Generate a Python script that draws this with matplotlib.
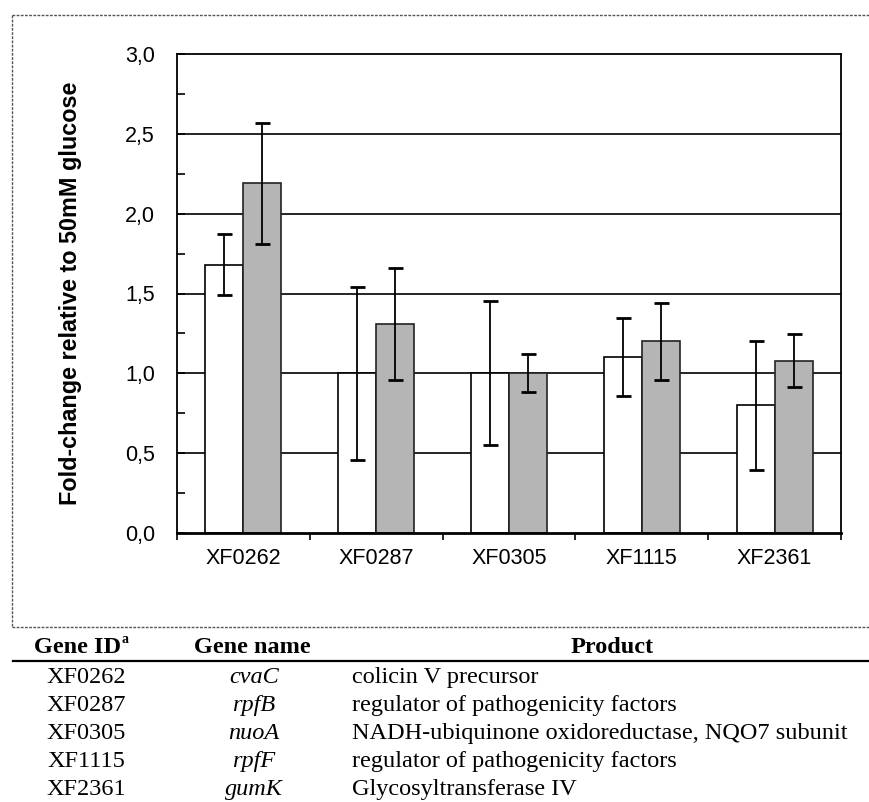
import matplotlib
matplotlib.use("Agg")
import matplotlib.pyplot as plt
from matplotlib.lines import Line2D
from matplotlib.ticker import FixedLocator
import numpy as np

# ---- data ----
genes = ["XF0262", "XF0287", "XF0305", "XF1115", "XF2361"]
white_vals = [1.68, 1.00, 1.00, 1.10, 0.80]
white_err = [0.19, 0.54, 0.45, 0.245, 0.405]
grey_vals = [2.19, 1.31, 1.00, 1.20, 1.08]
grey_err = [0.38, 0.35, 0.12, 0.24, 0.165]
y_ticks = [0.0, 0.5, 1.0, 1.5, 2.0, 2.5, 3.0]
y_tick_labels = ["0,0", "0,5", "1,0", "1,5", "2,0", "2,5", "3,0"]
y_label = "Fold-change relative to 50mM glucose"

table_headers = ["Gene ID", "Gene name", "Product"]
table_ids = ["XF0262", "XF0287", "XF0305", "XF1115", "XF2361"]
table_names = ["cvaC", "rpfB", "nuoA", "rpfF", "gumK"]
table_products = ["colicin V precursor",
                  "regulator of pathogenicity factors",
                  "NADH-ubiquinone oxidoreductase, NQO7 subunit",
                  "regulator of pathogenicity factors",
                  "Glycosyltransferase IV"]

W, H = 869, 802
fig = plt.figure(figsize=(W / 100, H / 100), dpi=100)
fig.patch.set_facecolor("white")

def fx(x):
    return x / W

def fy(y):
    return 1 - y / H

# axes placement (pixels)
L, R, T, B = 177, 841, 54, 533
ax = fig.add_axes([fx(L), fy(B), (R - L) / W, (B - T) / H])
ax.set_facecolor("white")

x = np.arange(len(genes))
bw = 0.286
# gridlines behind bars
for yv in y_ticks[1:-1]:
    ax.axhline(yv, color="black", lw=1.2, zorder=0.5)

ax.bar(x - bw / 2, white_vals, width=bw, color="white", edgecolor="black",
       linewidth=1.2, zorder=2)
ax.bar(x + bw / 2, grey_vals, width=bw, color="#b5b5b5", edgecolor="#222222",
       linewidth=1.2, zorder=2)
ax.errorbar(x - bw / 2, white_vals, yerr=white_err, fmt="none", ecolor="black",
            elinewidth=1.3, capsize=5.4, capthick=2.0, zorder=3)
ax.errorbar(x + bw / 2, grey_vals, yerr=grey_err, fmt="none", ecolor="black",
            elinewidth=1.3, capsize=5.4, capthick=2.0, zorder=3)

ax.set_xlim(-0.5, len(genes) - 0.5)
ax.set_ylim(0, 3.0)

# y ticks
ax.set_yticks(y_ticks)
ax.set_yticklabels(y_tick_labels, fontsize=15.5, family="Liberation Sans")
ax.yaxis.set_minor_locator(FixedLocator([0.25, 0.75, 1.25, 1.75, 2.25, 2.75]))
ax.tick_params(axis="y", which="major", direction="in", length=6, width=1.2, pad=16)
ax.tick_params(axis="y", which="minor", direction="in", length=6, width=1.2)

# x ticks: boundaries outward, labels at centres
ax.set_xticks(np.arange(-0.5, len(genes), 1.0))
ax.set_xticklabels([""] * (len(genes) + 1))
ax.set_xticks(x, minor=True)
ax.set_xticklabels(genes, minor=True, fontsize=15.5, family="Liberation Sans")
ax.tick_params(axis="x", which="major", direction="out", length=5, width=1.2)
ax.tick_params(axis="x", which="minor", length=0, pad=11)

ax.set_ylabel(y_label, fontsize=16.8, fontweight="bold", family="Liberation Sans")
ax.yaxis.set_label_coords((82 - L) / (R - L), 0.5)

for s in ["left", "right", "top"]:
    ax.spines[s].set_linewidth(1.3)
    ax.spines[s].set_color("black")
ax.spines["bottom"].set_linewidth(2.0)

# outer dotted frame
frame_kw = dict(color="#555555", lw=1.0, linestyle=(0, (2, 1)))
fig.add_artist(Line2D([fx(12), fx(12)], [fy(15), fy(627)], **frame_kw))
fig.add_artist(Line2D([fx(12), fx(W)], [fy(15), fy(15)], **frame_kw))
fig.add_artist(Line2D([fx(12), fx(W)], [fy(627), fy(627)], **frame_kw))

# table
serif = "Liberation Serif"
fs = 17.5
hdr_base = 653
fig.text(fx(121), fy(hdr_base), table_headers[0], family=serif, fontsize=fs,
         fontweight="bold", ha="right", va="baseline")
fig.text(fx(122), fy(hdr_base - 10), "a", family=serif, fontsize=10,
         fontweight="bold", ha="left", va="baseline")
fig.text(fx(252), fy(hdr_base), table_headers[1], family=serif, fontsize=fs,
         fontweight="bold", ha="center", va="baseline")
fig.text(fx(612), fy(hdr_base), table_headers[2], family=serif, fontsize=fs,
         fontweight="bold", ha="center", va="baseline")
fig.add_artist(Line2D([fx(13), fx(W)], [fy(661), fy(661)], color="black", lw=1.6))

row_base0 = 683
row_step = 28
for i, (gid, gname, prod) in enumerate(zip(table_ids, table_names, table_products)):
    yb = row_base0 + i * row_step
    fig.text(fx(86), fy(yb), gid, family=serif, fontsize=fs, ha="center", va="baseline")
    fig.text(fx(254), fy(yb), gname, family=serif, fontsize=fs, style="italic",
             ha="center", va="baseline")
    fig.text(fx(352), fy(yb), prod, family=serif, fontsize=fs, ha="left", va="baseline")

fig.savefig("out.png", dpi=100, facecolor="white")
